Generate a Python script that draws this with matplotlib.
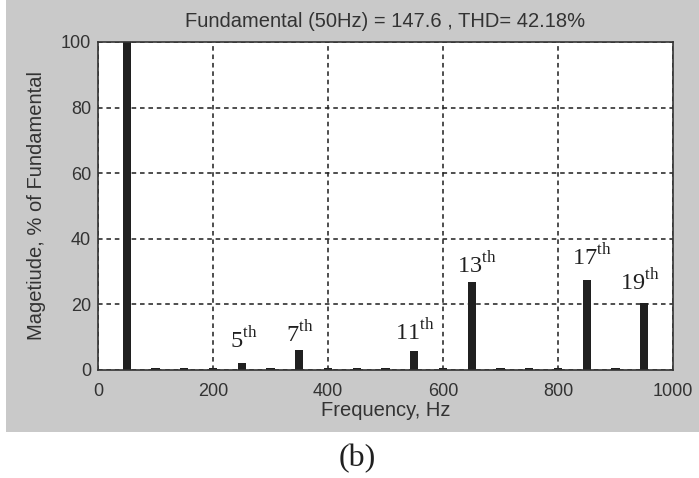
import numpy as np
from matplotlib import pyplot as plt
from matplotlib.patches import Rectangle

freq = [50, 100, 150, 200, 250, 300, 350, 400, 450, 500, 550, 600,
        650, 700, 750, 800, 850, 900, 950]
mag = [100, 0.6, 0.6, 0.6, 2.0, 0.6, 6.1, 0.6, 0.5, 0.6, 5.8, 0.6,
       26.9, 0.6, 0.6, 0.6, 27.4, 0.7, 20.3]

labels = ['5', '7', '11', '13', '17', '19']
label_x = [254, 351, 551, 658, 858, 943]
label_y = [6.7, 8.6, 9.1, 29.5, 32.0, 24.4]

plt.rcParams['font.family'] = ['Liberation Sans', 'DejaVu Sans']
plt.rcParams['mathtext.fontset'] = 'custom'
plt.rcParams['mathtext.rm'] = 'Liberation Serif'

fig = plt.figure(figsize=(6.99, 4.78), dpi=100, facecolor='white')
fig.patches.append(Rectangle((6 / 699, 1 - 432 / 478), 1, 432 / 478,
                             transform=fig.transFigure, facecolor='#c9c9c9',
                             edgecolor='none', zorder=-1))

ax = fig.add_axes([98 / 699, 1 - 370 / 478, 575 / 699, 328 / 478])
ax.set_facecolor('white')
ax.bar(freq, mag, width=14, color='#202020', zorder=3)

ax.set_xlim(0, 1000)
ax.set_ylim(0, 100)
ax.set_xticks(np.arange(0, 1001, 200))
ax.set_yticks(np.arange(0, 101, 20))
ax.grid(True, linestyle=(0, (3, 2.5)), color='#1e1e1e', linewidth=1.1)
ax.tick_params(length=0, labelsize=13, colors='#333333')
ax.tick_params(axis='x', pad=9)
ax.tick_params(axis='y', pad=5)
for s in ax.spines.values():
    s.set_color('#333333')
    s.set_linewidth(1.2)
    s.set_zorder(4)

ax.set_title('Fundamental (50Hz) = 147.6 , THD= 42.18%', fontsize=14.5,
             color='#333333', pad=11)
ax.set_xlabel('Frequency, Hz', fontsize=14.5, color='#333333', labelpad=1)
ax.set_ylabel('Magetiude, % of Fundamental', fontsize=14.5, color='#333333',
              labelpad=11)

for t, x, y in zip(labels, label_x, label_y):
    ax.text(x, y, t + r'$^{\mathrm{th}}$', ha='center', va='baseline',
            fontsize=17.5, family='Liberation Serif', color='#202020', zorder=5)

fig.text(357 / 699, 1 - 459 / 478, '(b)', ha='center', va='center',
         fontsize=23, family='Liberation Serif', color='#202020')

fig.savefig('out.png', dpi=100)
